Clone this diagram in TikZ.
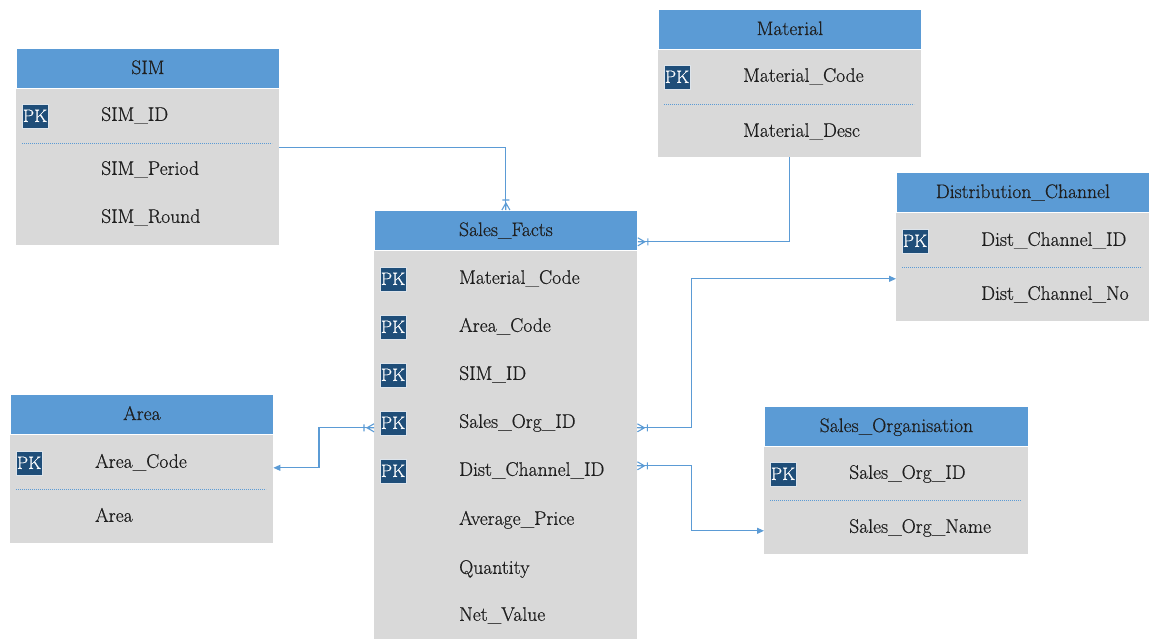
\documentclass[tikz,border=0pt]{standalone}
\usepackage{fontspec}
\newfontfamily\erfont{Latin Modern Roman}[FakeBold=0.6]
\usetikzlibrary{arrows.meta,calc}

\definecolor{hdrblue}{HTML}{5B9BD5}
\definecolor{bodygray}{HTML}{D9D9D9}
\definecolor{pkblue}{HTML}{1F4E79}
\definecolor{linkblue}{HTML}{5B9BD5}

\tikzset{
  hdr/.style={fill=hdrblue, draw=white, line width=0.8pt, minimum height=40pt,
    inner sep=0pt, anchor=north west},
  bodybox/.style={fill=bodygray, draw=none, inner sep=0pt, anchor=north west},
  txt/.style={font=\erfont\fontsize{19.6}{22}\selectfont, text=black!88, inner sep=0pt, anchor=base},
  attr/.style={txt, anchor=base west},
  pkbadge/.style={fill=pkblue, draw=white!85!pkblue, line width=0.6pt, text=white,
    font=\erfont\fontsize{18}{20}\selectfont, minimum width=26pt, minimum height=24pt, inner sep=0pt},
  sep/.style={draw=linkblue, line width=0.7pt, dash pattern=on 1.2pt off 0.8pt},
  link/.style={draw=linkblue, line width=1.1pt},
  tolink/.style={link, -{Triangle[length=7pt,width=6pt]}},
  crow/.pic={\draw[link] (0,-4)--(7,0)--(0,4) (0,0)--(7,0) (10,-3.5)--(10,3.5);}
}

% entity: name, left x, top y, width, body height, title
\newcommand\entbox[6]{%
  \node[hdr, minimum width=#4pt] (#1h) at (#2,#3) {};
  \node[txt] (#1t) at ($(#1h.north)+(0,26)$) {#6};
  \node[bodybox, minimum width=#4pt, minimum height=#5pt] (#1b) at (#1h.south west) {};
}
% attribute row: entity, node name, baseline offset, text
\newcommand\attrrow[4]{%
  \node[attr] (#2) at ($(#1b.north west)+(85,#3)$) {#4};
}
% primary key badge: entity, node name, centre offset
\newcommand\pkrow[3]{%
  \node[pkbadge] (#2) at ($(#1b.north west)+(19,#3)$) {PK};
}
% dotted separator: entity, offset, width
\newcommand\seprow[3]{%
  \draw[sep] ($(#1b.north west)+(6,#2)$) -- ++(#3-13,0);
}

\begin{document}
\begin{tikzpicture}[x=1pt,y=-1pt]
\useasboundingbox (0,0) rectangle (1149,638);

% SIM
\entbox{sim}{16}{48}{263}{156}{SIM}
\pkrow{sim}{simpk}{27}
\attrrow{sim}{simid}{32}{SIM\_ID}
\seprow{sim}{55}{263}
\attrrow{sim}{simperiod}{86}{SIM\_Period}
\attrrow{sim}{simround}{134}{SIM\_Round}

% Material
\entbox{mat}{658}{9}{263}{107}{Material}
\pkrow{mat}{matpk}{27}
\attrrow{mat}{matcode}{32}{Material\_Code}
\seprow{mat}{55}{263}
\attrrow{mat}{matdesc}{87}{Material\_Desc}

% Distribution_Channel
\entbox{dc}{896}{172}{253}{108}{Distribution\_Channel}
\pkrow{dc}{dcpk}{28}
\attrrow{dc}{dcid}{33}{Dist\_Channel\_ID}
\seprow{dc}{55}{253}
\attrrow{dc}{dcno}{87}{Dist\_Channel\_No}

% Area
\entbox{ar}{10}{394}{263}{108}{Area}
\pkrow{ar}{arpk}{28}
\attrrow{ar}{arcode}{33}{Area\_Code}
\seprow{ar}{55}{263}
\attrrow{ar}{arname}{87}{Area}

% Sales_Organisation
\entbox{so}{764}{406}{264}{107}{Sales\_Organisation}
\pkrow{so}{sopk}{27}
\attrrow{so}{soid}{32}{Sales\_Org\_ID}
\seprow{so}{54}{264}
\attrrow{so}{soname}{86}{Sales\_Org\_Name}

% Sales_Facts
\entbox{sf}{374}{210}{263}{390}{Sales\_Facts}
\pkrow{sf}{sfpk1}{28}
\attrrow{sf}{sfmat}{33}{Material\_Code}
\pkrow{sf}{sfpk2}{76}
\attrrow{sf}{sfarea}{81}{Area\_Code}
\pkrow{sf}{sfpk3}{124}
\attrrow{sf}{sfsim}{129}{SIM\_ID}
\pkrow{sf}{sfpk4}{172}
\attrrow{sf}{sfso}{177}{Sales\_Org\_ID}
\pkrow{sf}{sfpk5}{220}
\attrrow{sf}{sfdc}{225}{Dist\_Channel\_ID}
\attrrow{sf}{sfavg}{274}{Average\_Price}
\attrrow{sf}{sfqty}{323}{Quantity}
\attrrow{sf}{sfnet}{370}{Net\_Value}

% relationships
\draw[link] ($(simb.north east)+(0,59)$) -| (sfh.north);
\pic[rotate=90] at (sfh.north) {crow};

\draw[link] (matb.south) |- ($(sfh.south east)+(0,-9)$);
\pic at ($(sfh.south east)+(0,-9)$) {crow};

\draw[tolink] ($(sfb.north east)+(0,177)$) -- ++(54,0) |- ($(dcb.north west)+(0,66)$);
\pic at ($(sfb.north east)+(0,177)$) {crow};

\draw[tolink] ($(sfb.north east)+(0,215)$) -- ++(54,0) |- ($(sob.north west)+(0,84)$);
\pic at ($(sfb.north east)+(0,215)$) {crow};

\draw[tolink] ($(sfb.north west)+(0,177)$) -- ++(-55,0) |- ($(arb.north east)+(0,33)$);
\pic[rotate=180] at ($(sfb.north west)+(0,177)$) {crow};
\end{tikzpicture}
\end{document}
